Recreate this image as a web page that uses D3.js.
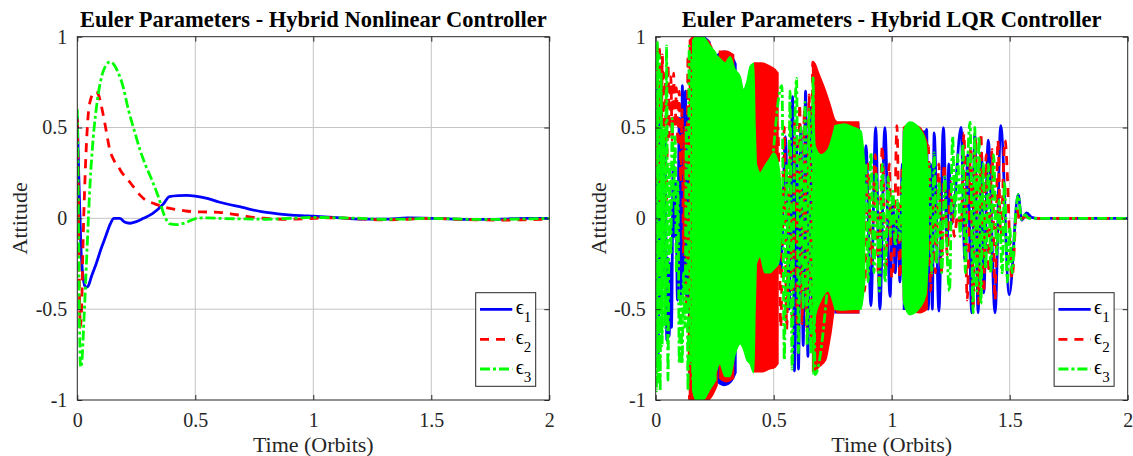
<!DOCTYPE html>
<html><head><meta charset="utf-8">
<script src="https://cdn.jsdelivr.net/npm/d3@7"></script>
<style>html,body{margin:0;padding:0;background:#fff;}svg{display:block;}</style>
</head><body>
<svg id="chart" width="1133" height="456"></svg>
<script>
// ---------- data ----------
const xTicks = [0, 0.5, 1, 1.5, 2];
const yTicks = [-1, -0.5, 0, 0.5, 1];
const titles = ["Euler Parameters - Hybrid Nonlinear Controller", "Euler Parameters - Hybrid LQR Controller"];
const xLabel = "Time (Orbits)";
const yLabel = "Attitude";
const seriesNames = ["1", "2", "3"];

// Left panel (Hybrid Nonlinear): [time, value]
const nlE1 = [[0,0.56],[0.005,0.3],[0.015,-0.15],[0.025,-0.33],[0.035,-0.38],[0.045,-0.375],[0.06,-0.32],[0.08,-0.25],[0.1,-0.17],[0.12,-0.1],[0.14,-0.03],[0.155,0.0],[0.18,0.0],[0.2,-0.02],[0.223,-0.027],[0.25,-0.018],[0.28,0.0],[0.32,0.027],[0.364,0.078],[0.39,0.12],[0.43,0.125],[0.463,0.126],[0.5,0.122],[0.55,0.11],[0.6,0.09],[0.7,0.06],[0.78,0.037],[0.85,0.025],[0.95,0.015],[1.0,0.012],[1.1,0.004],[1.2,-0.004],[1.3,-0.004],[1.4,0.002],[1.5,0.0],[1.6,-0.004],[1.7,-0.006],[1.8,-0.004],[1.9,0.0],[2.0,0.0]];
const nlE2 = [[0,0.55],[0.004,0.2],[0.008,-0.3],[0.013,-0.6],[0.018,-0.5],[0.025,-0.1],[0.035,0.3],[0.047,0.58],[0.06,0.67],[0.07,0.695],[0.08,0.695],[0.09,0.68],[0.1,0.63],[0.12,0.5],[0.138,0.376],[0.155,0.32],[0.174,0.284],[0.19,0.25],[0.21,0.22],[0.24,0.17],[0.266,0.128],[0.29,0.1],[0.322,0.083],[0.36,0.065],[0.393,0.055],[0.44,0.045],[0.49,0.037],[0.55,0.035],[0.6,0.033],[0.65,0.025],[0.7,0.015],[0.75,0.005],[0.8,0.0],[0.9,-0.005],[1.0,0.0],[1.1,0.003],[1.2,-0.003],[1.3,-0.008],[1.4,-0.005],[1.5,0.0],[1.6,-0.005],[1.7,-0.008],[1.8,-0.01],[1.9,-0.008],[2.0,-0.005]];
const nlE3 = [[0,0.6],[0.004,0.1],[0.009,-0.55],[0.014,-0.82],[0.02,-0.78],[0.025,-0.65],[0.033,-0.42],[0.04,-0.21],[0.054,0.19],[0.068,0.45],[0.085,0.65],[0.103,0.78],[0.12,0.84],[0.139,0.862],[0.156,0.845],[0.174,0.8],[0.195,0.72],[0.216,0.6],[0.24,0.49],[0.266,0.376],[0.29,0.29],[0.31,0.23],[0.343,0.12],[0.371,0.01],[0.393,-0.031],[0.42,-0.035],[0.45,-0.028],[0.48,-0.012],[0.506,0.0],[0.55,0.003],[0.6,0.0],[0.7,-0.003],[0.8,-0.005],[0.9,0.0],[1.0,0.005],[1.1,0.003],[1.2,0.0],[1.3,-0.005],[1.4,-0.004],[1.5,0.0],[1.6,-0.003],[1.7,-0.006],[1.8,-0.005],[1.9,-0.003],[2.0,0.0]];

// Right panel (Hybrid LQR): oscillation extrema [time, value]
const lqrE1 = [[0,0.1],[0.004,0.72],[0.01,-0.8],[0.016,0.6],[0.022,-0.5],[0.028,0.3],[0.034,-0.3],[0.04,0.45],[0.047,-0.67],[0.052,-0.22],[0.057,-0.65],[0.062,-0.25],[0.067,-0.6],[0.074,0.3],[0.08,-0.1],[0.086,0.2],[0.092,-0.45],[0.1,0.55],[0.107,-0.47],[0.113,0.73],[0.12,-0.4],[0.126,0.7],[0.132,-0.5],[0.138,0.6],[0.145,-0.9],[0.2,0.9],[0.3,-0.9],[0.4,0.7],[0.48,-0.6],[0.505,0.1],[0.53,-0.3],[0.55,0.45],[0.565,-0.5],[0.58,0.67],[0.588,-0.84],[0.597,0.45],[0.605,-0.83],[0.615,0.5],[0.625,-0.7],[0.635,0.7],[0.645,-0.76],[0.655,0.61],[0.665,-0.61],[0.7,0.5],[0.76,-0.5],[0.86,0.5],[0.875,-0.3],[0.891,0.4],[0.912,-0.48],[0.932,0.5],[0.95,-0.5],[0.971,0.5],[0.993,-0.43],[1.005,0.1],[1.015,-0.3],[1.025,0.05],[1.035,-0.35],[1.045,0.3],[1.1,-0.4],[1.148,0.49],[1.155,-0.5],[1.165,0.3],[1.172,-0.5],[1.18,0.47],[1.2,-0.51],[1.219,0.5],[1.235,-0.14],[1.242,0.3],[1.255,-0.03],[1.294,0.5],[1.31,-0.23],[1.322,0.35],[1.339,-0.52],[1.352,0.47],[1.366,-0.52],[1.381,0.36],[1.39,-0.41],[1.409,0.43],[1.438,-0.52],[1.462,0.51],[1.498,-0.42],[1.536,0.13],[1.551,-0.01],[1.572,0.03],[1.593,0.005],[1.62,0],[2.0,0]];
const lqrE2 = [[0,0.2],[0.005,0.97],[0.01,0.3],[0.016,0.95],[0.022,-0.1],[0.028,0.9],[0.034,0.35],[0.04,0.8],[0.046,0.1],[0.052,0.85],[0.058,0.45],[0.064,0.78],[0.07,0.43],[0.076,0.8],[0.082,0.5],[0.088,0.72],[0.094,0.4],[0.1,0.7],[0.106,0.2],[0.112,0.6],[0.118,-0.2],[0.124,0.5],[0.13,-0.5],[0.137,0.9],[0.143,-1.0],[0.3,0.9],[0.42,-0.8],[0.518,0.5],[0.53,-0.6],[0.545,0.5],[0.555,-0.61],[0.568,0.4],[0.578,-0.55],[0.59,0.55],[0.6,-0.6],[0.61,0.63],[0.62,-0.58],[0.63,0.6],[0.64,-0.6],[0.65,0.68],[0.66,-0.65],[0.665,0.86],[0.8,-0.5],[0.87,0.35],[0.885,-0.4],[0.9,0.3],[0.915,-0.25],[0.93,0.35],[0.945,-0.35],[0.96,0.4],[0.975,-0.3],[0.99,0.3],[1.0,-0.33],[1.01,-0.2],[1.022,0.51],[1.035,-0.33],[1.045,0.3],[1.1,-0.4],[1.155,0.4],[1.165,-0.4],[1.176,0.1],[1.185,-0.3],[1.2,0.3],[1.21,-0.3],[1.222,0.3],[1.235,-0.2],[1.25,0.2],[1.265,-0.1],[1.28,0.02],[1.295,-0.05],[1.306,0.47],[1.32,-0.45],[1.335,0.4],[1.345,-0.5],[1.355,0.45],[1.368,-0.47],[1.378,0.47],[1.39,-0.41],[1.4,0.35],[1.412,-0.3],[1.425,0.38],[1.438,-0.45],[1.45,0.43],[1.462,-0.1],[1.48,0.43],[1.51,-0.33],[1.53,0.05],[1.545,-0.02],[1.56,0.01],[1.6,0],[2.0,0]];
const lqrE3 = [[0,0.6],[0.003,-0.95],[0.007,0.97],[0.011,-0.9],[0.015,0.9],[0.019,-0.95],[0.023,0.8],[0.027,-0.7],[0.033,0.5],[0.04,-0.6],[0.046,0.95],[0.052,-0.89],[0.058,0.3],[0.064,-0.2],[0.07,0.55],[0.076,0.1],[0.082,0.45],[0.088,-0.3],[0.094,0.2],[0.1,-0.8],[0.106,-0.4],[0.112,-0.8],[0.118,-0.3],[0.124,-0.6],[0.13,0.5],[0.137,-0.95],[0.142,0.95],[0.148,-0.8],[0.153,0.9],[0.157,-0.9],[0.3,0.8],[0.45,-0.2],[0.535,0.73],[0.545,-0.78],[0.555,0.3],[0.562,-0.5],[0.569,0.7],[0.578,-0.83],[0.588,0.4],[0.597,0.77],[0.605,-0.74],[0.615,0.5],[0.625,-0.5],[0.633,0.64],[0.642,-0.7],[0.65,0.6],[0.658,-0.75],[0.667,0.78],[0.675,-0.86],[0.8,0.4],[0.89,0.3],[0.9,-0.35],[0.912,0.36],[0.925,-0.3],[0.935,0.25],[0.948,-0.4],[0.96,0.3],[0.972,-0.35],[0.985,0.23],[0.995,-0.1],[1.005,0.15],[1.015,-0.15],[1.025,0.1],[1.035,-0.12],[1.045,0.2],[1.1,-0.4],[1.16,0.3],[1.17,-0.3],[1.18,0.36],[1.19,-0.25],[1.2,0.2],[1.212,-0.3],[1.225,0.23],[1.235,-0.2],[1.245,-0.4],[1.258,0.45],[1.268,0.01],[1.28,0.35],[1.29,-0.1],[1.302,0.41],[1.312,-0.3],[1.322,0.3],[1.332,0.53],[1.345,-0.52],[1.352,0.5],[1.36,-0.4],[1.37,0.45],[1.378,-0.47],[1.388,0.3],[1.398,-0.28],[1.41,0.3],[1.42,-0.3],[1.432,0.35],[1.445,-0.2],[1.455,0.1],[1.468,-0.3],[1.478,0.2],[1.49,-0.35],[1.5,-0.05],[1.51,-0.3],[1.525,0.02],[1.536,0.13],[1.55,-0.005],[1.565,0.02],[1.58,0.0],[2.0,0]];

// Right panel densely-oscillating stretches: envelope [time, upper, lower]
const lqrE1Bands = [
  [[0.15,0.97,-0.98],[0.17,1.0,-1.0],[0.2,1.0,-1.0],[0.23,0.97,-0.97]],
  [[0.26,0.9,-0.9],[0.29,0.92,-0.92],[0.32,0.9,-0.9],[0.34,0.85,-0.85]],
  [[0.76,0.52,-0.52],[0.86,0.52,-0.52]],
  [[1.05,0.48,-0.5],[1.15,0.48,-0.5]]
];
const lqrE2Bands = [
  [[0.143,0.98,-1.0],[0.16,1.0,-1.0],[0.22,0.98,-1.0],[0.26,0.86,-0.92]],
  [[0.27,0.92,-0.88],[0.3,0.92,-0.9],[0.33,0.9,-0.88]],
  [[0.418,0.855,-0.845],[0.45,0.855,-0.845],[0.48,0.84,-0.83],[0.505,0.82,-0.82],[0.518,0.8,-0.8]],
  [[0.665,0.86,-0.84],[0.675,0.85,-0.84],[0.69,0.8,-0.82],[0.72,0.7,-0.78],[0.74,0.62,-0.65],[0.76,0.54,-0.5],[0.77,0.53,-0.52],[0.86,0.53,-0.52]],
  [[1.05,0.5,-0.45],[1.075,0.52,-0.5],[1.12,0.5,-0.52],[1.15,0.42,-0.5]]
];
const lqrE3Bands = [
  [[0.157,0.98,-0.95],[0.17,1.0,-1.0],[0.2,1.0,-1.0],[0.23,0.95,-0.94],[0.255,0.91,-0.89]],
  [[0.255,0.9,-0.85],[0.272,0.88,-0.8],[0.294,0.855,-0.87],[0.315,0.89,-0.87],[0.336,0.82,-0.75],[0.358,0.78,-0.69],[0.372,0.71,-0.72],[0.386,0.75,-0.78],[0.4,0.835,-0.8],[0.415,0.853,-0.85],[0.421,0.5,-0.5],[0.426,0.3,-0.25]],
  [[0.426,0.3,-0.25],[0.442,0.25,-0.21],[0.463,0.29,-0.3],[0.484,0.33,-0.3],[0.5,0.36,-0.28],[0.52,0.3,-0.25],[0.535,0.1,-0.05]],
  [[0.667,0.78,-0.86],[0.675,0.4,-0.55],[0.7,0.35,-0.45],[0.73,0.38,-0.4],[0.76,0.51,-0.5]],
  [[0.76,0.51,-0.5],[0.8,0.52,-0.505],[0.84,0.5,-0.5],[0.87,0.48,-0.5],[0.885,0.3,-0.35]],
  [[1.045,0.2,-0.2],[1.052,0.49,-0.47],[1.078,0.53,-0.53],[1.12,0.49,-0.49],[1.145,0.42,-0.42],[1.155,0.2,-0.2]]
];

// ---------- drawing ----------
const svg = d3.select("#chart");
const FONT = "'Liberation Serif','Times New Roman',serif";
const AX = "#262626";
const colors = ["#0000ff", "#ff0000", "#00ff00"];
const dashes = [null, "9,7", "10,3,3,3"];
const LW = 2.8;

function panel(idx, x0, x1, lines, bands) {
  const x = d3.scaleLinear().domain([0, 2]).range([x0, x1]);
  const y = d3.scaleLinear().domain([-1, 1]).range([400, 36.7]);
  const g = svg.append("g");
  const clipId = "clip" + idx;
  svg.append("clipPath").attr("id", clipId).append("rect")
    .attr("x", x0).attr("y", y(1)).attr("width", x1 - x0).attr("height", y(-1) - y(1));

  // grid
  g.selectAll(".gx").data(xTicks.slice(1, -1)).join("line")
    .attr("x1", d => x(d)).attr("x2", d => x(d)).attr("y1", y(1)).attr("y2", y(-1))
    .attr("stroke", "#c4c4c4").attr("stroke-width", 1);
  g.selectAll(".gy").data(yTicks.slice(1, -1)).join("line")
    .attr("y1", d => y(d)).attr("y2", d => y(d)).attr("x1", x0).attr("x2", x1)
    .attr("stroke", "#c4c4c4").attr("stroke-width", 1);

  // data
  const plot = g.append("g").attr("clip-path", `url(#${clipId})`);
  const area = d3.area().x(d => x(d[0])).y0(d => y(d[2])).y1(d => y(d[1])).curve(d3.curveMonotoneX);
  const line = d3.line().x(d => x(d[0])).y(d => y(d[1])).curve(d3.curveMonotoneX);
  lines.forEach((ser, i) => {
    if (bands) {
      plot.selectAll(".b" + i).data(bands[i]).join("path")
        .attr("d", area).attr("fill", colors[i]).attr("stroke", colors[i]).attr("stroke-width", 1.5);
    }
    plot.append("path").datum(ser).attr("d", line)
      .attr("fill", "none").attr("stroke", colors[i]).attr("stroke-width", LW)
      .attr("stroke-dasharray", dashes[i]).attr("stroke-linejoin", "round");
  });

  // axes
  const fmt = d => String(d);
  const axB = g.append("g").attr("transform", `translate(0,${y(-1)})`)
    .call(d3.axisBottom(x).tickValues(xTicks).tickSize(-5).tickPadding(13).tickFormat(fmt));
  const axL = g.append("g").attr("transform", `translate(${x0},0)`)
    .call(d3.axisLeft(y).tickValues(yTicks).tickSize(-5).tickPadding(10).tickFormat(fmt));
  const axT = g.append("g").attr("transform", `translate(0,${y(1)})`)
    .call(d3.axisTop(x).tickValues(xTicks).tickSize(-5).tickFormat(""));
  const axR = g.append("g").attr("transform", `translate(${x1},0)`)
    .call(d3.axisRight(y).tickValues(yTicks).tickSize(-5).tickFormat(""));
  [axB, axL, axT, axR].forEach(a => {
    a.select(".domain").remove();
    a.selectAll("line").attr("stroke", AX);
    a.selectAll("text").attr("fill", AX).style("font-family", FONT).style("font-size", "20px");
  });
  g.append("rect").attr("x", x0).attr("y", y(1)).attr("width", x1 - x0).attr("height", y(-1) - y(1))
    .attr("fill", "none").attr("stroke", AX).attr("stroke-width", 1);

  // labels
  g.append("text").attr("x", (x0 + x1) / 2).attr("y", 27).attr("text-anchor", "middle")
    .style("font-family", FONT).style("font-size", "22.5px").style("font-weight", "bold").attr("fill", "#000")
    .text(titles[idx]);
  g.append("text").attr("x", (x0 + x1) / 2).attr("y", 452).attr("text-anchor", "middle")
    .style("font-family", FONT).style("font-size", "22px").attr("fill", AX).text(xLabel);
  g.append("text").attr("transform", `translate(${x0 - 50},${(y(1) + y(-1)) / 2}) rotate(-90)`)
    .attr("text-anchor", "middle")
    .style("font-family", FONT).style("font-size", "22px").attr("fill", AX).text(yLabel);

  // legend
  const lx = x1 - 73.6, ly = 292.7, lw = 60, lh = 93.6;
  const lg = g.append("g");
  lg.append("rect").attr("x", lx).attr("y", ly).attr("width", lw).attr("height", lh)
    .attr("fill", "#fff").attr("stroke", AX).attr("stroke-width", 1);
  const rows = [309.3, 339.3, 369];
  seriesNames.forEach((s, i) => {
    lg.append("line").attr("x1", lx + 4.3).attr("x2", lx + 36.6).attr("y1", rows[i]).attr("y2", rows[i])
      .attr("stroke", colors[i]).attr("stroke-width", LW).attr("stroke-dasharray", dashes[i]);
    const t = lg.append("text").attr("x", lx + 40).attr("y", rows[i] + 4.5)
      .style("font-family", FONT + ",'DejaVu Serif'").style("font-size", "20px").attr("fill", "#000");
    t.append("tspan").text("\u03F5");
    t.append("tspan").attr("dy", 8).style("font-size", "15px").text(s);
  });
}

panel(0, 77.3, 549.3, [nlE1, nlE2, nlE3], null);
panel(1, 655.7, 1127.7, [lqrE1, lqrE2, lqrE3], [lqrE1Bands, lqrE2Bands, lqrE3Bands]);
</script>
</body></html>
